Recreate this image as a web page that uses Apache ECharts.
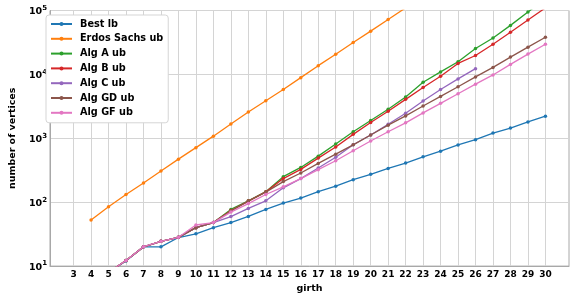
<!DOCTYPE html>
<html><head><meta charset="utf-8">
<script src="https://cdn.jsdelivr.net/npm/echarts@6/dist/echarts.min.js"></script>
<style>html,body{margin:0;padding:0;background:#fff}#c{width:571px;height:299px}</style>
</head><body><div id="c"></div>
<script>
const girth = [3,4,5,6,7,8,9,10,11,12,13,14,15,16,17,18,19,20,21,22,23,24,25,26,27,28,29,30];
const yTicks = [10,100,1000,10000,100000];
const bestLb    = [4,6,8,12,20,20,28,32,40,48,60,77,97,116,146,178,225,273,338,409,513,628,787,951,1208,1445,1807,2218];
const erdosSachs= [null,52.7,85,132,200,308,472,714,1080,1670,2585,3880,5810,8900,13700,20700,31500,47500,72400,110000,null,null,null,null,null,null,null,null];
const algA  = [4,6,8,12.2,20,24.4,28.2,40,48,77,105,146,251,350,526,817,1265,1900,2846,4416,7550,10940,15780,25400,37150,58500,95000,150000];
const algB  = [4,6,8,12.2,20,24.4,28.2,40,48,74,104,145,234,326,490,730,1153,1770,2650,4066,6240,9350,14860,19770,29700,45600,70800,110000];
const algC  = [4,6,8,12.2,20,24.4,28.2,40,48,59.6,80,105,168,234,343,504,794,1125,1660,2466,3828,5807,8510,12300,null,null,null,null];
const algGD = [4,6,8,12.2,20,24.4,28.2,40,48,73,104,144,210,286,405,564,790,1125,1607,2240,3200,4530,6400,9140,12880,18660,26700,38100];
const algGF = [4,6,8,12.2,20.1,24.4,28.2,44,48,70,95,132,174,234,323,445,639,908,1265,1746,2495,3524,4986,7030,9810,14350,20800,29700];

const names = ['Best lb','Erdos Sachs ub','Alg A ub','Alg B ub','Alg C ub','Alg GD ub','Alg GF ub'];
const colors = ['#1f77b4','#ff7f0e','#2ca02c','#d62728','#9467bd','#8c564b','#e377c2'];
const values = [bestLb, erdosSachs, algA, algB, algC, algGD, algGF];
const FONT = 'DejaVu Sans';

const chart = echarts.init(document.getElementById('c'), null, {renderer:'canvas'});
chart.setOption({
  animation: false,
  textStyle: {fontFamily: FONT},
  grid: {left: 41, right: 2, top: 10.5, bottom: 30.5, show: true, borderColor: '#a8a8a8', borderWidth: 1},
  legend: {
    orient: 'vertical', left: 46, top: 15, padding: [4, 5, 5, 4],
    itemWidth: 21, itemHeight: 5, itemGap: 4.8,
    borderColor: '#d5d5d5', borderWidth: 1, borderRadius: 3, backgroundColor: '#fff',
    textStyle: {fontFamily: FONT, fontWeight: 'bold', fontSize: 9.7, lineHeight: 10, color: '#000', padding: [0,0,0,3]},
    data: names
  },
  xAxis: {
    type: 'value', min: 1.65, max: 31.35,
    name: 'girth', nameLocation: 'middle', nameGap: 16,
    nameTextStyle: {fontFamily: FONT, fontWeight: 'bold', fontSize: 9.5, color: '#000'},
    axisLine: {show: true, lineStyle: {color: '#a8a8a8'}},
    axisTick: {show: false, customValues: girth},
    axisLabel: {customValues: girth, margin: 4, fontFamily: FONT, fontWeight: 'bold', fontSize: 9, color: '#000'},
    splitLine: {show: true, lineStyle: {color: '#d4d4d4', width: 1}}
  },
  yAxis: {
    type: 'log', logBase: 10, min: 10, max: 100000,
    name: 'number of vertices', nameLocation: 'middle', nameGap: 32, nameRotate: 90,
    nameTextStyle: {fontFamily: FONT, fontWeight: 'bold', fontSize: 9.5, color: '#000'},
    axisLine: {show: true, lineStyle: {color: '#a8a8a8'}},
    axisTick: {show: false},
    axisLabel: {margin: 3, fontFamily: FONT, fontWeight: 'bold', fontSize: 9.5, color: '#000',
      formatter: v => { const e = Math.round(Math.log10(v)); return yTicks.indexOf(Math.round(v)) >= 0 ? '{a|10}{b|' + e + '}' : ''; },
      rich: {
        a: {fontFamily: FONT, fontWeight: 'bold', fontSize: 9.5, color: '#000', lineHeight: 12, verticalAlign: 'bottom'},
        b: {fontFamily: FONT, fontWeight: 'bold', fontSize: 7, color: '#000', lineHeight: 12, verticalAlign: 'top', padding: [0,0,5,0]}
      }},
    splitLine: {show: true, lineStyle: {color: '#d4d4d4', width: 1}}
  },
  series: names.map((n, i) => ({
    name: n, type: 'line',
    data: girth.map((g, j) => [g, values[i][j]]).filter(p => p[1] != null),
    color: colors[i],
    symbol: 'circle', symbolSize: 3.5,
    lineStyle: {width: 1.3, color: colors[i]},
    itemStyle: {color: colors[i]},
    clip: true, z: 2 + i
  }))
});
</script></body></html>
